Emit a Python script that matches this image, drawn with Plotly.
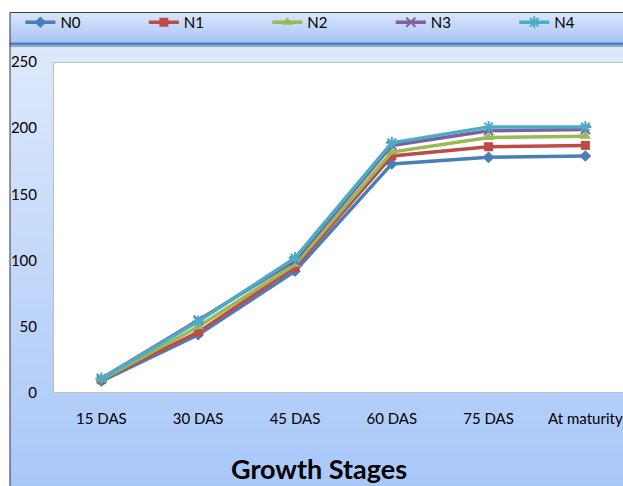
import plotly.graph_objects as go

# Growth stages and series values
stages = ["15 DAS", "30 DAS", "45 DAS", "60 DAS", "75 DAS", "At maturity"]
n0 = [9, 44, 92, 173, 178, 179]
n1 = [10, 46, 95, 179, 186, 187]
n2 = [10, 50, 97, 182, 193, 194]
n3 = [11, 55, 100, 187, 198, 199]
n4 = [11, 54, 102, 189, 201, 201]
y_ticks = [0, 50, 100, 150, 200, 250]

series = [
    ("N0", n0, "#4A7EBB", "diamond", 9),
    ("N1", n1, "#BE4B48", "square", 9),
    ("N2", n2, "#98B954", "triangle-up", 10),
    ("N3", n3, "#7D60A0", "x-thin-open", 9),
    ("N4", n4, "#4BACC6", "asterisk-open", 10),
]

W, H = 623, 486
L, R, T, B = 53, 623, 62, 393  # plot area in pixels


def px(x):
    return (x - L) / (R - L)


def py(y):
    return (B - y) / (B - T)


def mix(c1, c2, t):
    a = [int(c1[i:i + 2], 16) for i in (1, 3, 5)]
    b = [int(c2[i:i + 2], 16) for i in (1, 3, 5)]
    return "rgb(%d,%d,%d)" % tuple(round(a[k] + (b[k] - a[k]) * t) for k in range(3))


shapes = []


def gradient(x0, x1, y0, y1, c_top, c_bot, steps):
    h = (y1 - y0) / steps
    for i in range(steps):
        ya = y0 + i * h
        yb = min(y1, ya + h + 1)
        shapes.append(dict(type="rect", xref="paper", yref="paper", layer="below",
                           x0=px(x0), x1=px(x1), y0=py(yb), y1=py(ya),
                           fillcolor=mix(c_top, c_bot, (i + 0.5) / steps),
                           line=dict(width=0)))


# chart frame background
gradient(9, 700, 12, 43, "#DCE7FB", "#A7C4F5", 12)
gradient(9, 700, 45, 490, "#DEE9FB", "#A8C7F9", 70)
# separator under the legend band
shapes.append(dict(type="rect", xref="paper", yref="paper", layer="below",
                   x0=px(9), x1=px(700), y0=py(45.5), y1=py(42.5),
                   fillcolor="#4F81BD", line=dict(width=0)))
shapes.append(dict(type="rect", xref="paper", yref="paper", layer="below",
                   x0=px(9), x1=px(700), y0=py(47), y1=py(45.5),
                   fillcolor="#8EA6C9", line=dict(width=0)))
# frame border
shapes.append(dict(type="line", xref="paper", yref="paper", layer="below",
                   x0=px(9.5), x1=px(700), y0=py(12.5), y1=py(12.5),
                   line=dict(color="#3F3F3F", width=1)))
shapes.append(dict(type="line", xref="paper", yref="paper", layer="below",
                   x0=px(9.5), x1=px(9.5), y0=py(12.5), y1=py(490),
                   line=dict(color="#3F3F3F", width=1)))
# plot area
shapes.append(dict(type="rect", xref="paper", yref="paper", layer="below",
                   x0=px(53.5), x1=px(700), y0=py(392.5), y1=py(62.5),
                   fillcolor="white", line=dict(color="#BFBFBF", width=1)))

font = "Lato, Carlito, sans-serif"

fig = go.Figure()
legends = {}
for i, (name, vals, color, sym, size) in enumerate(series):
    open_sym = sym.endswith("open")
    key = "legend" if i == 0 else "legend%d" % (i + 1)
    fig.add_trace(go.Scatter(
        x=list(range(len(stages))), y=vals, name=name, mode="lines+markers",
        legend=key,
        line=dict(color=color, width=3.5),
        marker=dict(symbol=sym, size=size, color=color,
                    line=dict(color=color, width=2 if open_sym else 0)),
    ))
    # one legend box per series, spread across the top band
    legends[key] = dict(orientation="h", x=px(20 + 125 * i), y=py(6),
                        xanchor="left", yanchor="top",
                        bgcolor="rgba(0,0,0,0)", borderwidth=0,
                        font=dict(family=font, size=15, color="#000000"))

fig.update_layout(
    width=W, height=H,
    margin=dict(l=L, r=W - R, t=T, b=H - B, pad=0),
    paper_bgcolor="white", plot_bgcolor="rgba(0,0,0,0)",
    shapes=shapes,
    showlegend=True,
    xaxis=dict(range=[-0.5, 5.5 - (641 - 623) / 98.0], tickmode="array",
               tickvals=list(range(len(stages))), ticktext=stages,
               showgrid=False, zeroline=False, showline=False, ticks="",
               ticklabelstandoff=15, ticklabeloverflow="allow", fixedrange=True,
               tickfont=dict(family=font, size=15, color="#000000")),
    yaxis=dict(range=[0, 250], tickmode="array", tickvals=y_ticks,
               showgrid=False, zeroline=False, showline=False, ticks="",
               ticklabelstandoff=15, fixedrange=True,
               tickfont=dict(family=font, size=15, color="#000000")),
    annotations=[dict(text="<b>Growth Stages</b>", xref="paper", yref="paper",
                      x=px(322), y=py(468), xanchor="center", yanchor="middle",
                      showarrow=False, font=dict(family=font, size=27, color="#000000"))],
)
fig.update_layout(**legends)

fig.write_html("out.html")
